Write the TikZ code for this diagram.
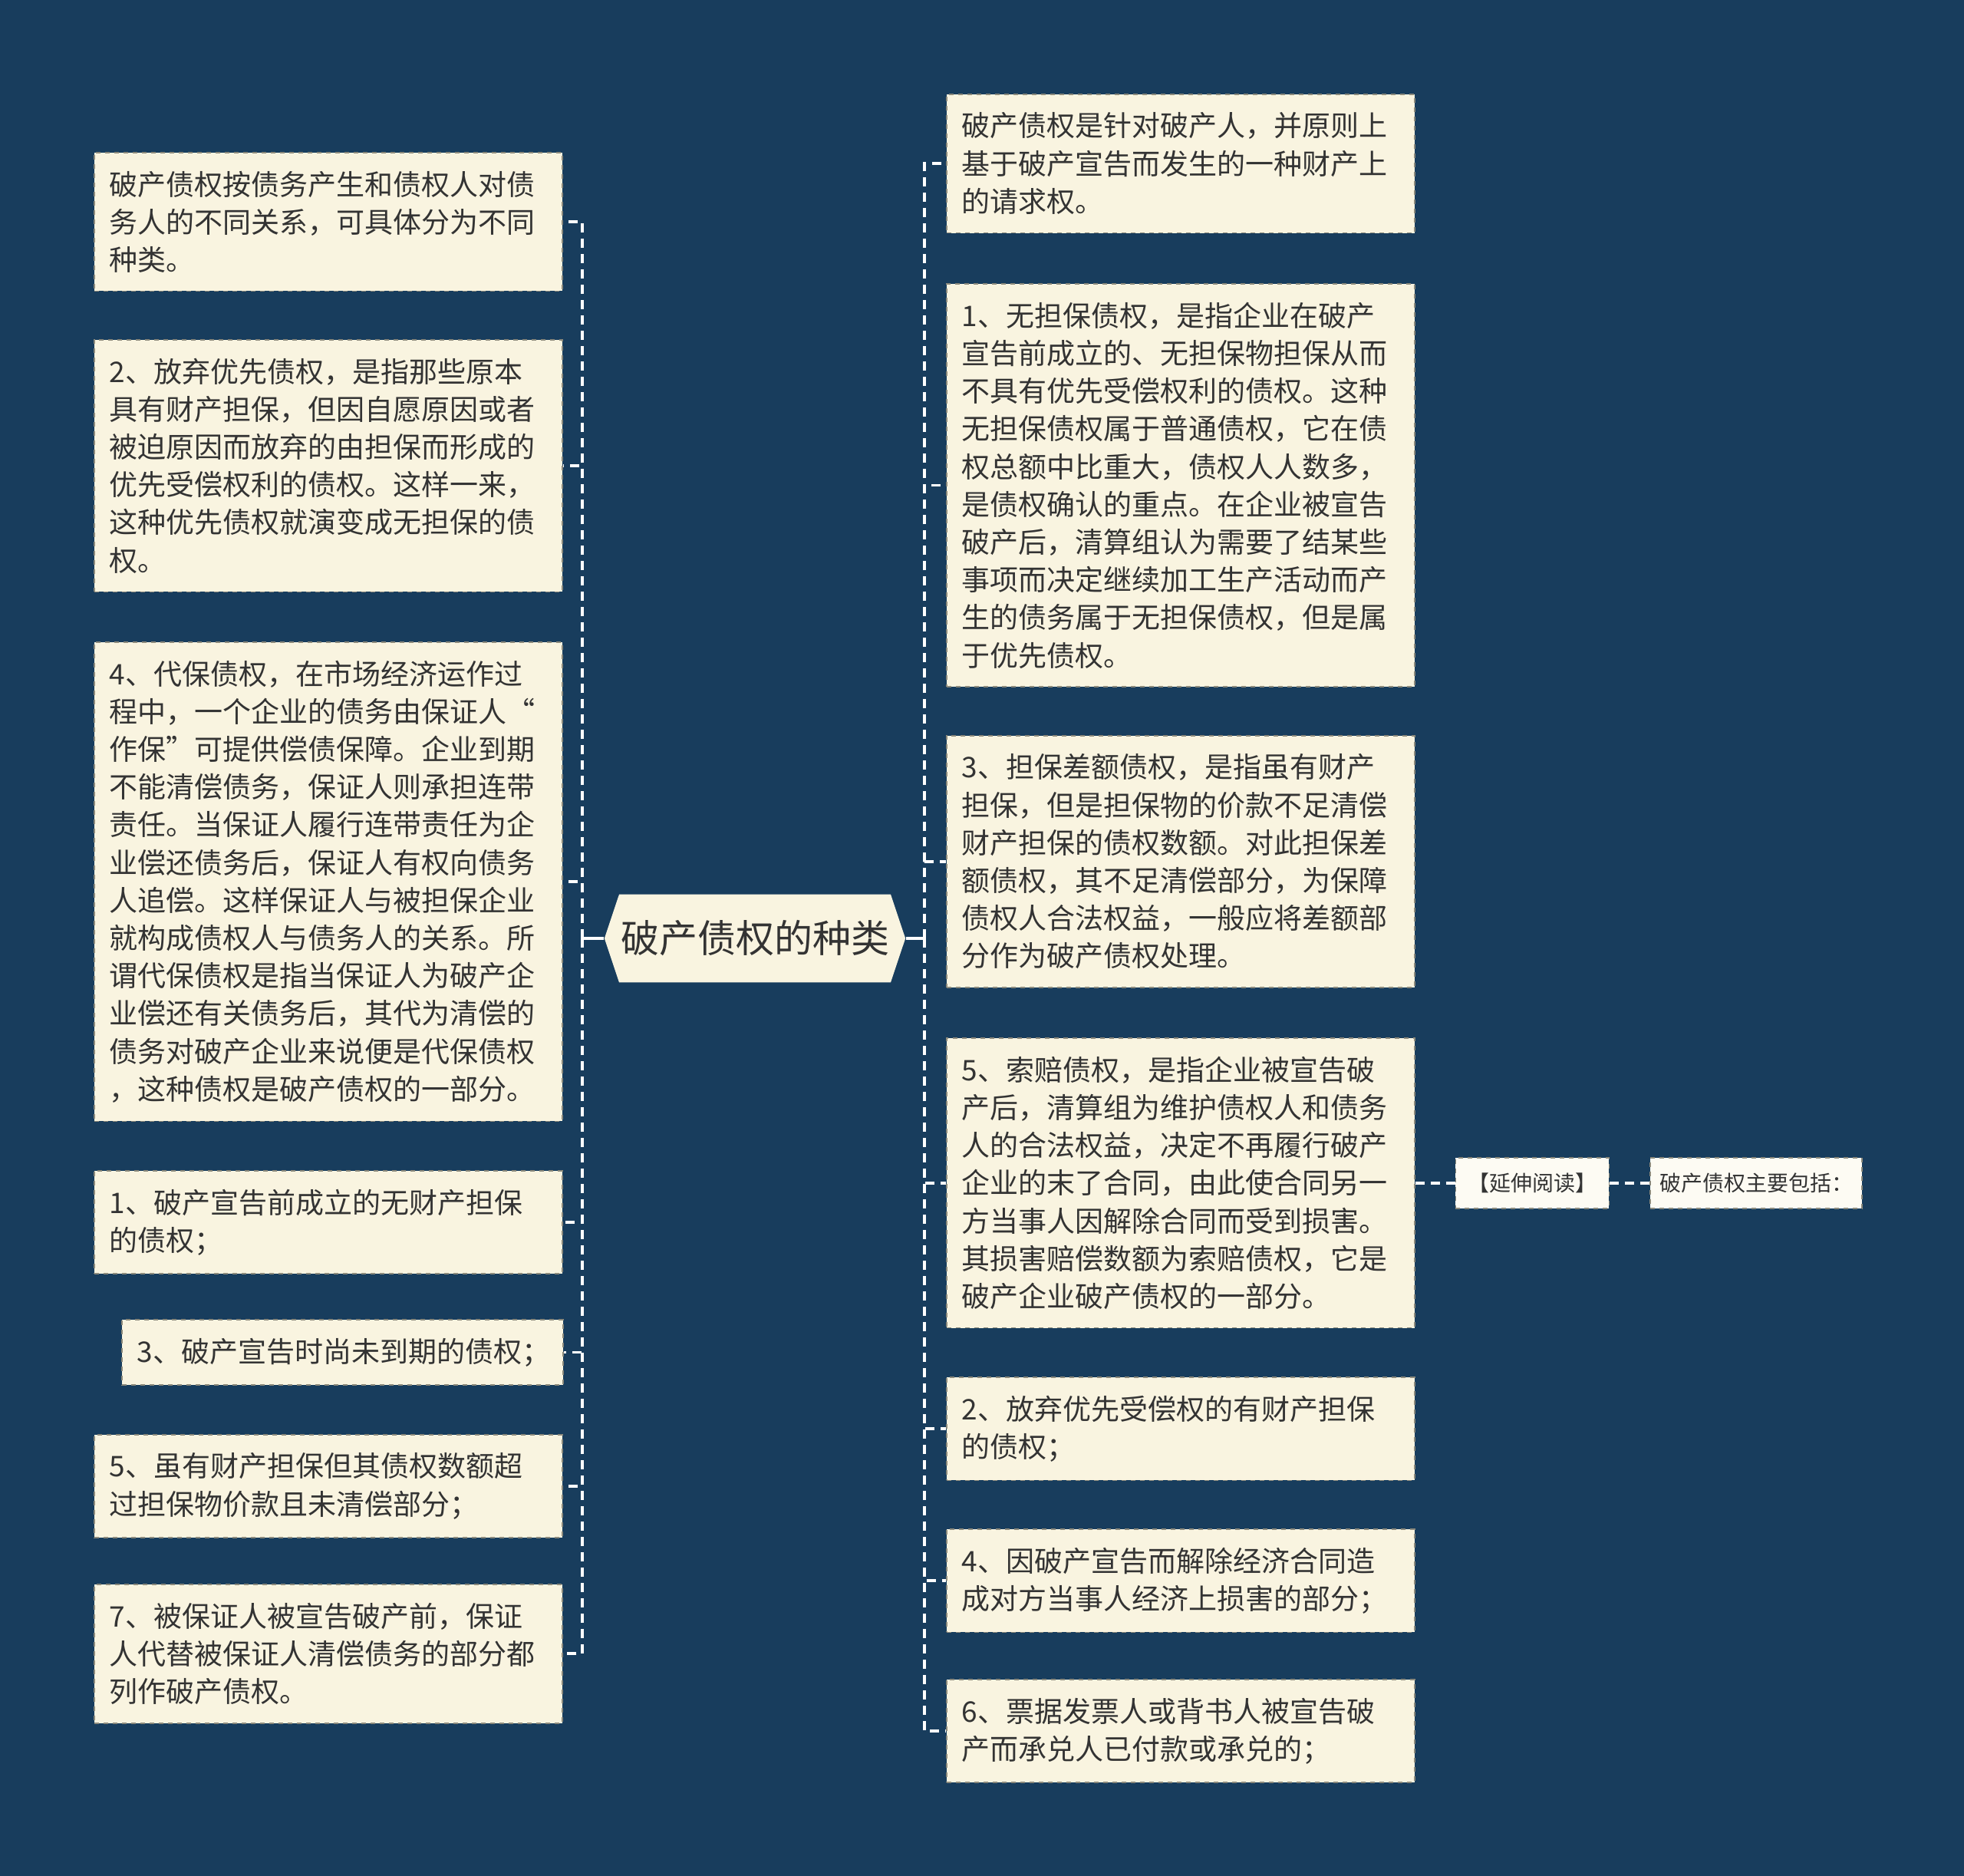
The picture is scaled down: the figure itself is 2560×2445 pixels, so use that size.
\documentclass[tikz,border=0pt]{standalone}
\usepackage{fontspec}
\setmainfont{Noto Sans CJK SC}
\usepackage{tikz}
\usetikzlibrary{shapes.symbols,positioning}
\definecolor{bgblue}{HTML}{183D5D}
\definecolor{paper}{HTML}{F9F4E0}
\definecolor{ink}{HTML}{333333}
\definecolor{rim}{HTML}{8C8A7C}

\begin{document}
\begin{tikzpicture}[x=0.5pt,y=-0.5pt,node distance=26pt,
                    conn/.style={draw=white,line width=1.8pt,dash pattern=on 6pt off 4pt}]

  \tikzstyle{leaf}=[rectangle,fill=paper,draw=rim,dashed,line width=0.8pt,anchor=north west,
                    text=ink,text width=285pt,align=left,inner xsep=10pt,inner ysep=12pt,
                    font=\fontsize{18.5pt}{24.6pt}\selectfont]
  \tikzstyle{tag}=[rectangle,fill=paper!40!white,draw=rim,dashed,line width=0.8pt,
                   text=ink,inner xsep=8pt,minimum height=33pt,
                   font=\fontsize{14pt}{17pt}\selectfont]
  \tikzstyle{root}=[shape=signal,signal to=west and east,signal pointer angle=143,
                    fill=paper,text=ink,inner xsep=1pt,inner ysep=17pt,
                    font=\fontsize{25pt}{28pt}\selectfont]

  \fill[bgblue] (0,0) rectangle (2560,2445);
  \useasboundingbox (0,0) rectangle (2560,2445);

  \node[root] (root) at (984,1223) {破产债权的种类};
  \coordinate (lhub) at (759,1223);
  \coordinate (rhub) at (1205,1223);

  \node[leaf] (L1) at (122,198)  {破产债权按债务产生和债权人对债\\务人的不同关系，可具体分为不同\\种类。};
  \node[leaf] (L2) at (122,442)  {2、放弃优先债权，是指那些原本\\具有财产担保，但因自愿原因或者\\被迫原因而放弃的由担保而形成的\\优先受偿权利的债权。这样一来，\\这种优先债权就演变成无担保的债\\权。};
  \node[leaf] (L3) at (122,836)  {4、代保债权，在市场经济运作过\\程中，一个企业的债务由保证人“\\作保”可提供偿债保障。企业到期\\不能清偿债务，保证人则承担连带\\责任。当保证人履行连带责任为企\\业偿还债务后，保证人有权向债务\\人追偿。这样保证人与被担保企业\\就构成债权人与债务人的关系。所\\谓代保债权是指当保证人为破产企\\业偿还有关债务后，其代为清偿的\\债务对破产企业来说便是代保债权\\，这种债权是破产债权的一部分。};
  \node[leaf] (L4) at (122,1525) {1、破产宣告前成立的无财产担保\\的债权；};
  \node[leaf,text width=267.5pt] (L5) at (158,1719) {3、破产宣告时尚未到期的债权；};
  \node[leaf] (L6) at (122,1869) {5、虽有财产担保但其债权数额超\\过担保物价款且未清偿部分；};
  \node[leaf] (L7) at (122,2064) {7、被保证人被宣告破产前，保证\\人代替被保证人清偿债务的部分都\\列作破产债权。};

  \node[leaf] (R1) at (1233,122)  {破产债权是针对破产人，并原则上\\基于破产宣告而发生的一种财产上\\的请求权。};
  \node[leaf] (R2) at (1233,369)  {1、无担保债权，是指企业在破产\\宣告前成立的、无担保物担保从而\\不具有优先受偿权利的债权。这种\\无担保债权属于普通债权，它在债\\权总额中比重大，债权人人数多，\\是债权确认的重点。在企业被宣告\\破产后，清算组认为需要了结某些\\事项而决定继续加工生产活动而产\\生的债务属于无担保债权，但是属\\于优先债权。};
  \node[leaf] (R3) at (1233,958)  {3、担保差额债权，是指虽有财产\\担保，但是担保物的价款不足清偿\\财产担保的债权数额。对此担保差\\额债权，其不足清偿部分，为保障\\债权人合法权益，一般应将差额部\\分作为破产债权处理。};
  \node[leaf] (R4) at (1233,1352) {5、索赔债权，是指企业被宣告破\\产后，清算组为维护债权人和债务\\人的合法权益，决定不再履行破产\\企业的末了合同，由此使合同另一\\方当事人因解除合同而受到损害。\\其损害赔偿数额为索赔债权，它是\\破产企业破产债权的一部分。};
  \node[leaf] (R5) at (1233,1794) {2、放弃优先受偿权的有财产担保\\的债权；};
  \node[leaf] (R6) at (1233,1992) {4、因破产宣告而解除经济合同造\\成对方当事人经济上损害的部分；};
  \node[leaf] (R7) at (1233,2188) {6、票据发票人或背书人被宣告破\\产而承兑人已付款或承兑的；};

  \node[tag] (ext)  [right=of R4]  {【延伸阅读】};
  \node[tag,inner xsep=6pt] (summ) [right=26pt of ext] {破产债权主要包括：};

  \draw[white,line width=1.8pt] (root.west) -- (lhub);
  \draw[white,line width=1.8pt] (root.east) -- (rhub);
  \foreach \n in {L1,L2,L3,L4,L5,L6,L7}
    \draw[conn] (lhub) |- (\n.east);
  \foreach \n in {R1,R2,R3,R4,R5,R6,R7}
    \draw[conn] (rhub) |- (\n.west);
  \draw[conn] (R4.east) -- (ext.west);
  \draw[conn] (ext.east) -- (summ.west);
\end{tikzpicture}
\end{document}
